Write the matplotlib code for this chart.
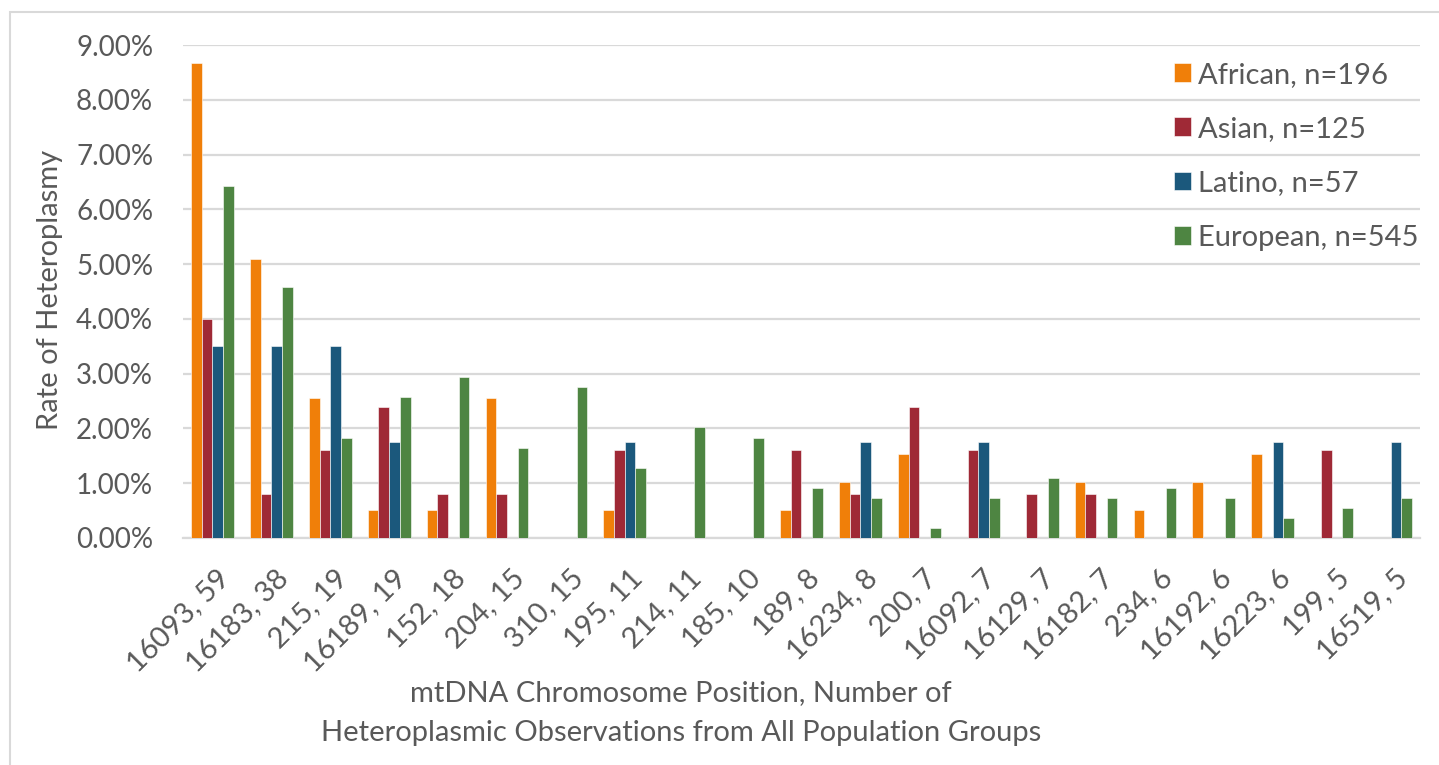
import matplotlib
matplotlib.use("Agg")
import numpy as np
import matplotlib.pyplot as plt
import matplotlib.transforms as mtransforms
from matplotlib.patches import Rectangle
from matplotlib.ticker import FuncFormatter

# data (rates in percent)
positions = ["16093, 59", "16183, 38", "215, 19", "16189, 19", "152, 18", "204, 15",
             "310, 15", "195, 11", "214, 11", "185, 10", "189, 8", "16234, 8", "200, 7",
             "16092, 7", "16129, 7", "16182, 7", "234, 6", "16192, 6", "16223, 6",
             "199, 5", "16519, 5"]
african = [8.67, 5.10, 2.55, 0.51, 0.51, 2.55, 0, 0.51, 0, 0, 0.51, 1.02, 1.53,
           0, 0, 1.02, 0.51, 1.02, 1.53, 0, 0]
asian = [4.00, 0.80, 1.60, 2.40, 0.80, 0.80, 0, 1.60, 0, 0, 1.60, 0.80, 2.40,
         1.60, 0.80, 0.80, 0, 0, 0, 1.60, 0]
latino = [3.51, 3.51, 3.51, 1.75, 0, 0, 0, 1.75, 0, 0, 0, 1.75, 0,
          1.75, 0, 0, 0, 0, 1.75, 0, 1.75]
european = [6.42, 4.59, 1.83, 2.57, 2.94, 1.65, 2.75, 1.28, 2.02, 1.83, 0.92, 0.73, 0.18,
            0.73, 1.10, 0.73, 0.92, 0.73, 0.37, 0.55, 0.73]
series_names = ["African, n=196", "Asian, n=125", "Latino, n=57", "European, n=545"]
colors = ["#F07F09", "#9F2936", "#1B587C", "#4E8542"]

txt = "#595959"
plt.rcParams['font.family'] = ['Lato', 'DejaVu Sans']
plt.rcParams['font.size'] = 21

W, H = 1439, 765
fig = plt.figure(figsize=(W / 100, H / 100), dpi=100)
ax = fig.add_axes([183 / W, 1 - 538 / H, (1420 - 183) / W, (538 - 45) / H])

x = np.arange(len(positions))
bw = 1 / 5.5
for i, (vals, name, c) in enumerate(zip([african, asian, latino, european], series_names, colors)):
    ax.bar(x + (i - 1.5) * bw, vals, width=bw, color=c, label=name,
           edgecolor="white", linewidth=0.4, zorder=3)

ax.set_xlim(-0.5, len(positions) - 0.5)
ax.set_ylim(0, 9)
ax.set_yticks(np.arange(0, 10, 1))
ax.yaxis.set_major_formatter(FuncFormatter(lambda v, p: f"{v:.2f}%"))
ax.grid(axis="y", color="#D9D9D9", linewidth=1.6, zorder=0)
for s in ["top", "right", "left"]:
    ax.spines[s].set_visible(False)
ax.spines["bottom"].set_color("#D9D9D9")
ax.spines["bottom"].set_linewidth(1.6)
ax.tick_params(axis="both", length=0, colors=txt)
ax.tick_params(axis="y", pad=21.5, labelsize=20)
ax.set_xticks(x)
ax.set_xticklabels(positions, rotation=45, ha="right", va="top", rotation_mode="anchor")
ax.tick_params(axis="x", pad=19, labelsize=21)
shift = mtransforms.ScaledTranslation(4 / 100, 0, fig.dpi_scale_trans)
for lab in ax.get_xticklabels():
    lab.set_transform(lab.get_transform() + shift)

ax.set_ylabel("Rate of Heteroplasmy", color=txt, va="center")
ax.yaxis.set_label_coords(-(183 - 50) / (1420 - 183), (538 - 290) / (538 - 45))

fig.text(681 / W, 1 - 693 / H, "mtDNA Chromosome Position, Number of", ha="center", va="center",
         color=txt)
fig.text(681 / W, 1 - 733 / H, "Heteroplasmic Observations from All Population Groups",
         ha="center", va="center", color=txt)

leg = ax.legend(loc="upper left", bbox_to_anchor=(1162 / W, 1 - 50 / H), bbox_transform=fig.transFigure,
                frameon=False, handlelength=0.6, handleheight=0.6, handletextpad=0.25,
                labelspacing=0.97, borderaxespad=0)
for t in leg.get_texts():
    t.set_color(txt)

# chart frame
fig.patches.append(Rectangle((10 / W, -0.1), 1.2, 1 - 12 / H + 0.1, transform=fig.transFigure,
                             fill=False, edgecolor="#D9D9D9", linewidth=1.5))

fig.savefig("out.png", dpi=100)
